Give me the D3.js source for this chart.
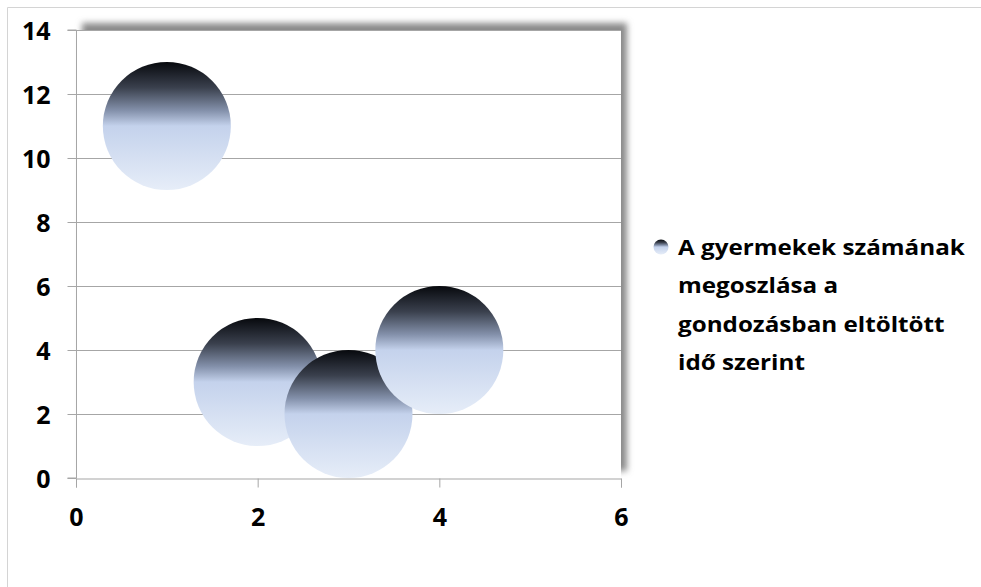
<!DOCTYPE html>
<html>
<head>
<meta charset="utf-8">
<script src="https://cdn.jsdelivr.net/npm/d3@7"></script>
<style>
  body { margin: 0; background: #fff; }
  text { font-family: "Open Sans", Lato, sans-serif; font-weight: bold; fill: #000; }
</style>
</head>
<body>
<svg id="chart" width="981" height="587"></svg>
<script>
// Bubble series (all bubbles share the same size).
const xValues = [1, 2, 3, 4];
const yValues = [11, 3, 2, 4];
const sizes = [1, 1, 1, 1];
const xTicks = [0, 2, 4, 6];
const yTicks = [0, 2, 4, 6, 8, 10, 12, 14];
const legendLines = [
  'A gyermekek számának',
  'megoszlása a',
  'gondozásban eltöltött',
  'idő szerint',
];

const svg = d3.select('#chart');
const plot = {left: 76, right: 621, top: 30, bottom: 478};

const x = d3.scaleLinear().domain([0, 6]).range([plot.left, plot.right]);
const y = d3.scaleLinear().domain([0, 14]).range([plot.bottom, plot.top]);
const r = d3.scaleSqrt().domain([0, 1]).range([0, 64]);

const defs = svg.append('defs');

// Vertical dark-to-pale-blue fill used by bubbles and the legend marker.
const grad = defs.append('linearGradient')
  .attr('id', 'bubble-fill')
  .attr('x1', 0).attr('y1', 0).attr('x2', 0).attr('y2', 1);
grad.selectAll('stop')
  .data([
    ['0%', '#07090d'],
    ['20%', '#3a404d'],
    ['38%', '#8491ab'],
    ['50%', '#c4d2ec'],
    ['100%', '#e6edf8'],
  ])
  .enter().append('stop')
  .attr('offset', (d) => d[0])
  .attr('stop-color', (d) => d[1]);

const shadow = defs.append('filter')
  .attr('id', 'plot-shadow')
  .attr('x', '-5%').attr('y', '-5%').attr('width', '110%').attr('height', '110%');
shadow.append('feGaussianBlur').attr('stdDeviation', 3);

// Outer chart border (only top and left edges visible in the frame).
svg.append('path')
  .attr('d', 'M 7.5,587 V 7.5 H 981')
  .attr('fill', 'none')
  .attr('stroke', '#d4d4d4');

// Plot area shadow, pushed up and to the right.
svg.append('rect')
  .attr('x', plot.left + 6).attr('y', plot.top - 7)
  .attr('width', plot.right - plot.left).attr('height', plot.bottom - plot.top)
  .attr('fill', '#8a8a8a')
  .attr('filter', 'url(#plot-shadow)');
svg.append('rect')
  .attr('x', plot.left).attr('y', plot.top)
  .attr('width', plot.right - plot.left).attr('height', plot.bottom - plot.top)
  .attr('fill', '#fff');

// Horizontal gridlines.
svg.append('g')
  .selectAll('line')
  .data(yTicks.filter((t) => t > 0))
  .enter().append('line')
  .attr('x1', plot.left).attr('x2', plot.right)
  .attr('y1', (d) => Math.round(y(d)) + 0.5)
  .attr('y2', (d) => Math.round(y(d)) + 0.5)
  .attr('stroke', '#a6a6a6');

// Axes.
const yAxis = svg.append('g')
  .attr('transform', `translate(${plot.left + 0.5},0)`)
  .call(d3.axisLeft(y).tickValues(yTicks).tickFormat(d3.format('d'))
    .tickSize(9).tickPadding(17));
const xAxis = svg.append('g')
  .attr('transform', `translate(0,${plot.bottom + 0.5})`)
  .call(d3.axisBottom(x).tickValues(xTicks).tickFormat(d3.format('d'))
    .tickSize(9));

[xAxis, yAxis].forEach((axis) => {
  axis.select('.domain').attr('stroke', '#a6a6a6');
  axis.selectAll('.tick line').attr('stroke', '#a6a6a6');
  axis.selectAll('.tick text')
    .style('font-family', '"Open Sans", Lato, sans-serif')
    .style('font-weight', 'bold')
    .style('font-size', '25px')
    .attr('fill', '#000');
});
yAxis.select('.domain').attr('d', `M -9,${plot.bottom} H 0 V ${plot.top} H -9`);
yAxis.selectAll('.tick text').attr('dy', '0.36em');
xAxis.selectAll('.tick text').attr('y', 47).attr('dy', 0);

// Bubbles.
svg.append('g')
  .selectAll('circle')
  .data(xValues.map((v, i) => ({x: v, y: yValues[i], s: sizes[i]})))
  .enter().append('circle')
  .attr('cx', (d) => x(d.x))
  .attr('cy', (d) => y(d.y))
  .attr('r', (d) => r(d.s))
  .attr('fill', 'url(#bubble-fill)');

// Legend.
const legend = svg.append('g').attr('transform', 'translate(661,247)');
legend.append('circle')
  .attr('r', 7.5)
  .attr('fill', 'url(#bubble-fill)');
const legendText = legend.append('g').attr('transform', 'translate(17,0)');
const label = legendText.append('text')
  .attr('y', 8)
  .style('font-size', '20.5px');
label.selectAll('tspan')
  .data(legendLines)
  .enter().append('tspan')
  .attr('x', 0)
  .attr('dy', (d, i) => (i === 0 ? 0 : 38.5))
  .text((d) => d);

// The reference face runs wider than Open Sans; stretch so the first line
// spans the same width.
const firstWidth = label.select('tspan').node().getComputedTextLength();
legendText.attr('transform', `translate(17,0) scale(${287 / firstWidth},1)`);
</script>
</body>
</html>
